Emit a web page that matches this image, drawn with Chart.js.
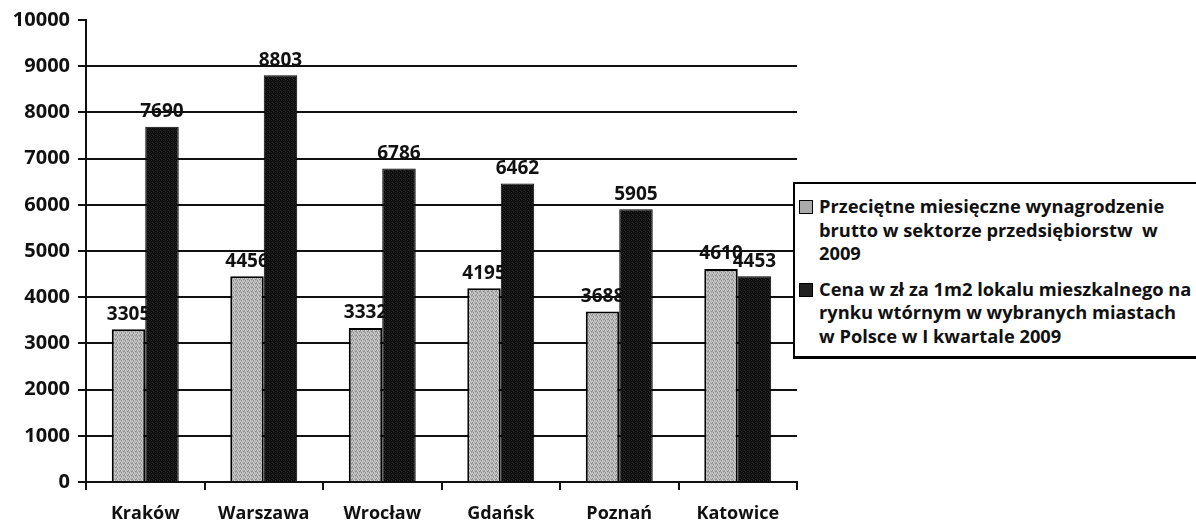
<!DOCTYPE html>
<html>
<head>
<meta charset="utf-8">
<script src="https://cdn.jsdelivr.net/npm/chart.js@4/dist/chart.umd.min.js"></script>
<style>
  html, body { margin: 0; padding: 0; background: #fff; overflow: hidden; }
  #wrap { position: relative; width: 1196px; height: 528px; }
  #legend {
    position: absolute; left: 793px; top: 182px; width: 430px; height: 177px;
    border: 2px solid #000; border-bottom-width: 3px; background: #fff; box-sizing: border-box;
    font-family: "Open Sans", sans-serif; font-weight: bold; font-size: 18.3px; line-height: 23.5px;
    color: #111; padding: 10px 0 0 4px; white-space: pre;
  }
  .item { display: flex; align-items: flex-start; margin-bottom: 12px; }
  .sw { width: 12px; height: 12px; border: 1px solid #000; margin: 6px 6px 0 0; flex: none; }
  .sw.gray { background: #aaa; }
  .sw.dark { background: #222; }
</style>
</head>
<body>
<div id="wrap">
  <canvas id="myChart" width="1196" height="528"></canvas>
  <div id="legend"></div>
</div>
<script>
// Daten
const miasta = ['Kraków', 'Warszawa', 'Wrocław', 'Gdańsk', 'Poznań', 'Katowice'];
const wynagrodzenie = [3305, 4456, 3332, 4195, 3688, 4610];
const cenaM2 = [7690, 8803, 6786, 6462, 5905, 4453];
const etykiety = [
  ['Przeciętne miesięczne wynagrodzenie', 'brutto w sektorze przedsiębiorstw  w', '2009'],
  ['Cena w zł za 1m2 lokalu mieszkalnego na', 'rynku wtórnym w wybranych miastach', 'w Polsce w I kwartale 2009']
];

const FONT = '"Open Sans", sans-serif';

// kleines Muster wie im Scan (gesprenkelt)
function makePattern(colors) {
  const c = document.createElement('canvas');
  c.width = 4; c.height = 4;
  const g = c.getContext('2d');
  for (let i = 0; i < 16; i++) {
    g.fillStyle = colors[i % colors.length];
    g.fillRect(i % 4, Math.floor(i / 4), 1, 1);
  }
  return g.createPattern(c, 'repeat');
}
const grauMuster = makePattern(['#bcbcbc', '#909090', '#d6d6d6', '#a6a6a6', '#cacaca', '#9c9c9c', '#c0c0c0']);
const dunkelMuster = makePattern(['#0c0c0c', '#1c1c1c', '#050505', '#2a2a2a', '#111111']);

// Legende als HTML
const legendEl = document.getElementById('legend');
etykiety.forEach(function (lines, i) {
  const item = document.createElement('div');
  item.className = 'item';
  const sw = document.createElement('span');
  sw.className = 'sw ' + (i === 0 ? 'gray' : 'dark');
  const txt = document.createElement('span');
  txt.textContent = lines.join('\n');
  item.appendChild(sw);
  item.appendChild(txt);
  legendEl.appendChild(item);
});

// Werte über den Balken: grau vor den Balken (wird vom dunklen Balken verdeckt), dunkel danach
function drawValues(chart, dsIndex) {
  const ctx = chart.ctx;
  const meta = chart.getDatasetMeta(dsIndex);
  ctx.save();
  ctx.font = 'bold 19px ' + FONT;
  ctx.fillStyle = '#111';
  ctx.textAlign = 'center';
  ctx.textBaseline = 'middle';
  meta.data.forEach(function (bar, i) {
    ctx.fillText(String(chart.data.datasets[dsIndex].data[i]), bar.x, bar.y - 15);
  });
  ctx.restore();
}
const wertePlugin = {
  id: 'werte',
  beforeDatasetsDraw(chart) { drawValues(chart, 0); },
  afterDatasetsDraw(chart) { drawValues(chart, 1); }
};

const config = {
  type: 'bar',
  data: {
    labels: miasta,
    datasets: [{
      label: etykiety[0].join(' '),
      data: wynagrodzenie,
      backgroundColor: grauMuster,
      borderColor: '#000',
      borderWidth: 2,
      categoryPercentage: 0.565,
      barPercentage: 1.0
    }, {
      label: etykiety[1].join(' '),
      data: cenaM2,
      backgroundColor: dunkelMuster,
      borderColor: '#000',
      borderWidth: 1,
      categoryPercentage: 0.565,
      barPercentage: 1.0
    }]
  },
  options: {
    responsive: false,
    animation: false,
    layout: { padding: { top: 20, right: 399, bottom: 0, left: 0 } },
    plugins: {
      legend: { display: false },
      tooltip: { enabled: false }
    },
    scales: {
      y: {
        min: 0,
        max: 10000,
        ticks: {
          stepSize: 1000,
          color: '#111',
          padding: 8,
          font: { family: FONT, size: 20, weight: 'bold' },
          callback: function (v) { return String(v); }
        },
        grid: {
          color: function (c) { return (c.tick && (c.tick.value === 10000 || c.tick.value === 0)) ? 'rgba(0,0,0,0)' : '#111'; },
          tickColor: '#111',
          lineWidth: 2,
          tickLength: 8
        },
        border: { color: '#111', width: 2 },
        afterFit: function (scale) { scale.width = 86; }
      },
      x: {
        ticks: {
          color: '#111',
          padding: 13,
          font: { family: FONT, size: 18, weight: 'bold' }
        },
        grid: {
          offset: true,
          drawOnChartArea: false,
          color: '#111',
          lineWidth: 2,
          tickLength: 8
        },
        border: { color: '#111', width: 2 },
        afterFit: function (scale) { scale.height = 46; }
      }
    }
  },
  plugins: [wertePlugin]
};

const ctx = document.getElementById('myChart').getContext('2d');
const myChart = new Chart(ctx, config);
</script>
</body>
</html>
